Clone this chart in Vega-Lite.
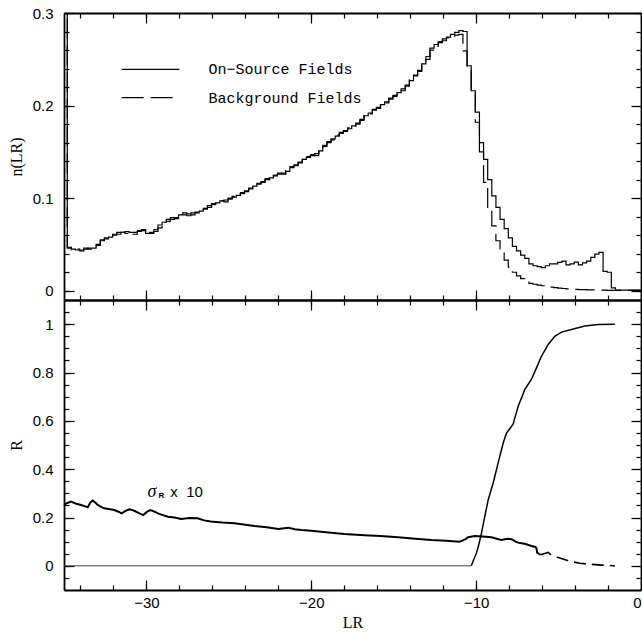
{
 "$schema": "https://vega.github.io/schema/vega-lite/v6.json",
 "padding": {"left": 8, "top": 6, "right": 0, "bottom": 0},
 "background": "white",
 "spacing": 0,
 "bounds": "flush",
 "config": {
  "view": {"stroke": null},
  "axis": {"grid": false, "domainColor": "black", "tickColor": "black", "labelColor": "black", "titleColor": "black", "labelFont": "Liberation Sans", "labelFontSize": 15, "titleFont": "Liberation Serif", "titleFontSize": 16, "titleFontWeight": "normal", "domainWidth": 1.8, "tickWidth": 1.2}
 },
 "datasets": {
  "hist": [
   {"lr": -35, "on": 0.32, "bg": 0.32},
   {"lr": -34.8, "on": 0.046, "bg": 0.047},
   {"lr": -34.55, "on": 0.045, "bg": 0.044},
   {"lr": -34.3, "on": 0.044, "bg": 0.045},
   {"lr": -34.05, "on": 0.044, "bg": 0.043},
   {"lr": -33.8, "on": 0.045, "bg": 0.046},
   {"lr": -33.55, "on": 0.046, "bg": 0.045},
   {"lr": -33.3, "on": 0.046, "bg": 0.048},
   {"lr": -33.05, "on": 0.050, "bg": 0.049},
   {"lr": -32.8, "on": 0.054, "bg": 0.055},
   {"lr": -32.55, "on": 0.056, "bg": 0.057},
   {"lr": -32.3, "on": 0.058, "bg": 0.059},
   {"lr": -32.05, "on": 0.060, "bg": 0.061},
   {"lr": -31.8, "on": 0.061, "bg": 0.063},
   {"lr": -31.55, "on": 0.063, "bg": 0.063},
   {"lr": -31.3, "on": 0.064, "bg": 0.062},
   {"lr": -31.05, "on": 0.063, "bg": 0.060},
   {"lr": -30.8, "on": 0.063, "bg": 0.061},
   {"lr": -30.55, "on": 0.065, "bg": 0.064},
   {"lr": -30.3, "on": 0.065, "bg": 0.066},
   {"lr": -30.05, "on": 0.062, "bg": 0.061},
   {"lr": -29.8, "on": 0.063, "bg": 0.062},
   {"lr": -29.55, "on": 0.066, "bg": 0.064},
   {"lr": -29.3, "on": 0.071, "bg": 0.068},
   {"lr": -29.05, "on": 0.074, "bg": 0.073},
   {"lr": -28.8, "on": 0.075, "bg": 0.077},
   {"lr": -28.55, "on": 0.077, "bg": 0.079},
   {"lr": -28.3, "on": 0.079, "bg": 0.078},
   {"lr": -28.05, "on": 0.082, "bg": 0.080},
   {"lr": -27.8, "on": 0.084, "bg": 0.082},
   {"lr": -27.55, "on": 0.083, "bg": 0.081},
   {"lr": -27.3, "on": 0.084, "bg": 0.082},
   {"lr": -27.05, "on": 0.084, "bg": 0.085},
   {"lr": -26.8, "on": 0.086, "bg": 0.087},
   {"lr": -26.55, "on": 0.089, "bg": 0.088},
   {"lr": -26.3, "on": 0.092, "bg": 0.090},
   {"lr": -26.05, "on": 0.094, "bg": 0.093},
   {"lr": -25.8, "on": 0.095, "bg": 0.096},
   {"lr": -25.55, "on": 0.097, "bg": 0.097},
   {"lr": -25.3, "on": 0.098, "bg": 0.096},
   {"lr": -25.05, "on": 0.100, "bg": 0.099},
   {"lr": -24.8, "on": 0.101, "bg": 0.102},
   {"lr": -24.55, "on": 0.103, "bg": 0.104},
   {"lr": -24.3, "on": 0.105, "bg": 0.106},
   {"lr": -24.05, "on": 0.108, "bg": 0.107},
   {"lr": -23.8, "on": 0.111, "bg": 0.110},
   {"lr": -23.55, "on": 0.113, "bg": 0.114},
   {"lr": -23.3, "on": 0.115, "bg": 0.116},
   {"lr": -23.05, "on": 0.118, "bg": 0.117},
   {"lr": -22.8, "on": 0.120, "bg": 0.121},
   {"lr": -22.55, "on": 0.122, "bg": 0.120},
   {"lr": -22.3, "on": 0.124, "bg": 0.125},
   {"lr": -22.05, "on": 0.126, "bg": 0.127},
   {"lr": -21.8, "on": 0.127, "bg": 0.126},
   {"lr": -21.55, "on": 0.129, "bg": 0.131},
   {"lr": -21.3, "on": 0.133, "bg": 0.134},
   {"lr": -21.05, "on": 0.136, "bg": 0.135},
   {"lr": -20.8, "on": 0.139, "bg": 0.138},
   {"lr": -20.55, "on": 0.142, "bg": 0.141},
   {"lr": -20.3, "on": 0.144, "bg": 0.145},
   {"lr": -20.05, "on": 0.146, "bg": 0.147},
   {"lr": -19.8, "on": 0.148, "bg": 0.146},
   {"lr": -19.55, "on": 0.151, "bg": 0.150},
   {"lr": -19.3, "on": 0.156, "bg": 0.157},
   {"lr": -19.05, "on": 0.161, "bg": 0.160},
   {"lr": -18.8, "on": 0.164, "bg": 0.163},
   {"lr": -18.55, "on": 0.167, "bg": 0.168},
   {"lr": -18.3, "on": 0.170, "bg": 0.171},
   {"lr": -18.05, "on": 0.173, "bg": 0.172},
   {"lr": -17.8, "on": 0.175, "bg": 0.176},
   {"lr": -17.55, "on": 0.178, "bg": 0.177},
   {"lr": -17.3, "on": 0.181, "bg": 0.180},
   {"lr": -17.05, "on": 0.184, "bg": 0.185},
   {"lr": -16.8, "on": 0.189, "bg": 0.190},
   {"lr": -16.55, "on": 0.192, "bg": 0.191},
   {"lr": -16.3, "on": 0.195, "bg": 0.196},
   {"lr": -16.05, "on": 0.198, "bg": 0.197},
   {"lr": -15.8, "on": 0.201, "bg": 0.202},
   {"lr": -15.55, "on": 0.204, "bg": 0.203},
   {"lr": -15.3, "on": 0.207, "bg": 0.208},
   {"lr": -15.05, "on": 0.211, "bg": 0.210},
   {"lr": -14.8, "on": 0.214, "bg": 0.215},
   {"lr": -14.55, "on": 0.218, "bg": 0.216},
   {"lr": -14.3, "on": 0.222, "bg": 0.221},
   {"lr": -14.05, "on": 0.227, "bg": 0.228},
   {"lr": -13.8, "on": 0.233, "bg": 0.232},
   {"lr": -13.55, "on": 0.238, "bg": 0.237},
   {"lr": -13.3, "on": 0.245, "bg": 0.246},
   {"lr": -13.05, "on": 0.253, "bg": 0.250},
   {"lr": -12.8, "on": 0.262, "bg": 0.260},
   {"lr": -12.55, "on": 0.266, "bg": 0.264},
   {"lr": -12.3, "on": 0.269, "bg": 0.268},
   {"lr": -12.05, "on": 0.272, "bg": 0.270},
   {"lr": -11.8, "on": 0.274, "bg": 0.273},
   {"lr": -11.55, "on": 0.277, "bg": 0.275},
   {"lr": -11.3, "on": 0.279, "bg": 0.276},
   {"lr": -11.05, "on": 0.281, "bg": 0.277},
   {"lr": -10.8, "on": 0.280, "bg": 0.259},
   {"lr": -10.55, "on": 0.243, "bg": 0.242},
   {"lr": -10.3, "on": 0.216, "bg": 0.214},
   {"lr": -10.05, "on": 0.193, "bg": 0.182},
   {"lr": -9.8, "on": 0.160, "bg": 0.150},
   {"lr": -9.55, "on": 0.142, "bg": 0.117},
   {"lr": -9.3, "on": 0.120, "bg": 0.089},
   {"lr": -9.05, "on": 0.1025, "bg": 0.070},
   {"lr": -8.8, "on": 0.090, "bg": 0.054},
   {"lr": -8.55, "on": 0.077, "bg": 0.042},
   {"lr": -8.3, "on": 0.067, "bg": 0.033},
   {"lr": -8.05, "on": 0.057, "bg": 0.0255},
   {"lr": -7.8, "on": 0.048, "bg": 0.020},
   {"lr": -7.55, "on": 0.043, "bg": 0.016},
   {"lr": -7.3, "on": 0.0385, "bg": 0.013},
   {"lr": -7.05, "on": 0.035, "bg": 0.0097},
   {"lr": -6.8, "on": 0.029, "bg": 0.008},
   {"lr": -6.55, "on": 0.027, "bg": 0.007},
   {"lr": -6.3, "on": 0.026, "bg": 0.006},
   {"lr": -6.05, "on": 0.025, "bg": 0.0054},
   {"lr": -5.8, "on": 0.027, "bg": 0.0045},
   {"lr": -5.55, "on": 0.029, "bg": 0.004},
   {"lr": -5.3, "on": 0.029, "bg": 0.0033},
   {"lr": -5.05, "on": 0.0306, "bg": 0.0028},
   {"lr": -4.8, "on": 0.032, "bg": 0.0024},
   {"lr": -4.55, "on": 0.028, "bg": 0.002},
   {"lr": -4.3, "on": 0.029, "bg": 0.0018},
   {"lr": -4.05, "on": 0.031, "bg": 0.0015},
   {"lr": -3.8, "on": 0.028, "bg": 0.0013},
   {"lr": -3.55, "on": 0.030, "bg": 0.0011},
   {"lr": -3.3, "on": 0.032, "bg": 0.001},
   {"lr": -3.05, "on": 0.036, "bg": 0.0009},
   {"lr": -2.8, "on": 0.0396, "bg": 0.0008},
   {"lr": -2.55, "on": 0.0414, "bg": 0.0007},
   {"lr": -2.3, "on": 0.021, "bg": 0.0006},
   {"lr": -2.05, "on": 0.020, "bg": 0.0005},
   {"lr": -1.8, "on": 0.003, "bg": 0.0005},
   {"lr": -1.55, "on": 0.0006, "bg": 0.0004},
   {"lr": 0, "on": 0.0004, "bg": 0.0004}
  ],
  "legend": [
   {"x1": -31.5, "x2": -28.0, "tx": -26.24, "y": 0.239, "label": "On−Source Fields", "dash": "solid"},
   {"x1": -31.5, "x2": -28.0, "tx": -26.24, "y": 0.2086, "label": "Background Fields", "dash": "dashed"}
  ],
  "curves": [
   {"lr": -35, "v": 0, "s": "flat"},
   {"lr": -10.29, "v": 0, "s": "flat"},
   {"lr": -10.29, "v": 0, "s": "rise"},
   {"lr": -10.15, "v": 0.025, "s": "rise"},
   {"lr": -9.98, "v": 0.053, "s": "rise"},
   {"lr": -9.83, "v": 0.09, "s": "rise"},
   {"lr": -9.68, "v": 0.134, "s": "rise"},
   {"lr": -9.48, "v": 0.203, "s": "rise"},
   {"lr": -9.27, "v": 0.273, "s": "rise"},
   {"lr": -8.97, "v": 0.342, "s": "rise"},
   {"lr": -8.67, "v": 0.425, "s": "rise"},
   {"lr": -8.36, "v": 0.508, "s": "rise"},
   {"lr": -8.16, "v": 0.549, "s": "rise"},
   {"lr": -7.95, "v": 0.568, "s": "rise"},
   {"lr": -7.76, "v": 0.586, "s": "rise"},
   {"lr": -7.45, "v": 0.66, "s": "rise"},
   {"lr": -7.05, "v": 0.729, "s": "rise"},
   {"lr": -6.65, "v": 0.771, "s": "rise"},
   {"lr": -6.34, "v": 0.819, "s": "rise"},
   {"lr": -6.04, "v": 0.867, "s": "rise"},
   {"lr": -5.63, "v": 0.916, "s": "rise"},
   {"lr": -5.23, "v": 0.95, "s": "rise"},
   {"lr": -4.82, "v": 0.967, "s": "rise"},
   {"lr": -4.22, "v": 0.978, "s": "rise"},
   {"lr": -3.41, "v": 0.992, "s": "rise"},
   {"lr": -2.6, "v": 0.999, "s": "rise"},
   {"lr": -1.59, "v": 1.0, "s": "rise"},
   {"lr": -35.0, "v": 0.252, "s": "sig"},
   {"lr": -34.8, "v": 0.26, "s": "sig"},
   {"lr": -34.57, "v": 0.266, "s": "sig"},
   {"lr": -34.3, "v": 0.258, "s": "sig"},
   {"lr": -33.97, "v": 0.252, "s": "sig"},
   {"lr": -33.75, "v": 0.247, "s": "sig"},
   {"lr": -33.56, "v": 0.242, "s": "sig"},
   {"lr": -33.4, "v": 0.262, "s": "sig"},
   {"lr": -33.26, "v": 0.27, "s": "sig"},
   {"lr": -33.1, "v": 0.262, "s": "sig"},
   {"lr": -32.95, "v": 0.252, "s": "sig"},
   {"lr": -32.75, "v": 0.244, "s": "sig"},
   {"lr": -32.56, "v": 0.238, "s": "sig"},
   {"lr": -32.2, "v": 0.234, "s": "sig"},
   {"lr": -31.96, "v": 0.231, "s": "sig"},
   {"lr": -31.7, "v": 0.224, "s": "sig"},
   {"lr": -31.5, "v": 0.217, "s": "sig"},
   {"lr": -31.25, "v": 0.228, "s": "sig"},
   {"lr": -31.03, "v": 0.234, "s": "sig"},
   {"lr": -30.74, "v": 0.228, "s": "sig"},
   {"lr": -30.45, "v": 0.218, "s": "sig"},
   {"lr": -30.2, "v": 0.21, "s": "sig"},
   {"lr": -29.95, "v": 0.224, "s": "sig"},
   {"lr": -29.76, "v": 0.231, "s": "sig"},
   {"lr": -29.5, "v": 0.224, "s": "sig"},
   {"lr": -29.3, "v": 0.217, "s": "sig"},
   {"lr": -29.0, "v": 0.21, "s": "sig"},
   {"lr": -28.7, "v": 0.203, "s": "sig"},
   {"lr": -28.3, "v": 0.2, "s": "sig"},
   {"lr": -27.9, "v": 0.194, "s": "sig"},
   {"lr": -27.4, "v": 0.198, "s": "sig"},
   {"lr": -26.9, "v": 0.197, "s": "sig"},
   {"lr": -26.5, "v": 0.188, "s": "sig"},
   {"lr": -26.1, "v": 0.183, "s": "sig"},
   {"lr": -25.4, "v": 0.179, "s": "sig"},
   {"lr": -24.66, "v": 0.176, "s": "sig"},
   {"lr": -24.0, "v": 0.17, "s": "sig"},
   {"lr": -23.44, "v": 0.165, "s": "sig"},
   {"lr": -22.7, "v": 0.16, "s": "sig"},
   {"lr": -22.0, "v": 0.152, "s": "sig"},
   {"lr": -21.4, "v": 0.158, "s": "sig"},
   {"lr": -21.0, "v": 0.151, "s": "sig"},
   {"lr": -20.6, "v": 0.148, "s": "sig"},
   {"lr": -20.0, "v": 0.145, "s": "sig"},
   {"lr": -19.4, "v": 0.141, "s": "sig"},
   {"lr": -18.8, "v": 0.137, "s": "sig"},
   {"lr": -18.0, "v": 0.132, "s": "sig"},
   {"lr": -16.77, "v": 0.127, "s": "sig"},
   {"lr": -15.8, "v": 0.123, "s": "sig"},
   {"lr": -14.74, "v": 0.118, "s": "sig"},
   {"lr": -13.7, "v": 0.112, "s": "sig"},
   {"lr": -12.72, "v": 0.107, "s": "sig"},
   {"lr": -11.8, "v": 0.104, "s": "sig"},
   {"lr": -11.0, "v": 0.1, "s": "sig"},
   {"lr": -10.7, "v": 0.108, "s": "sig"},
   {"lr": -10.49, "v": 0.118, "s": "sig"},
   {"lr": -10.08, "v": 0.123, "s": "sig"},
   {"lr": -9.6, "v": 0.121, "s": "sig"},
   {"lr": -9.07, "v": 0.118, "s": "sig"},
   {"lr": -8.75, "v": 0.112, "s": "sig"},
   {"lr": -8.47, "v": 0.107, "s": "sig"},
   {"lr": -8.1, "v": 0.112, "s": "sig"},
   {"lr": -7.86, "v": 0.11, "s": "sig"},
   {"lr": -7.6, "v": 0.1, "s": "sig"},
   {"lr": -7.45, "v": 0.096, "s": "sig"},
   {"lr": -7.0, "v": 0.09, "s": "sig"},
   {"lr": -6.65, "v": 0.082, "s": "sig"},
   {"lr": -6.4, "v": 0.078, "s": "sig"},
   {"lr": -6.34, "v": 0.072, "s": "sig"},
   {"lr": -6.3, "v": 0.055, "s": "sig"},
   {"lr": -6.1, "v": 0.046, "s": "sig"},
   {"lr": -6.1, "v": 0.046, "s": "tail"},
   {"lr": -5.8, "v": 0.052, "s": "tail"},
   {"lr": -5.63, "v": 0.056, "s": "tail"},
   {"lr": -5.5, "v": 0.048, "s": "tail"},
   {"lr": -5.02, "v": 0.034, "s": "tail"},
   {"lr": -4.6, "v": 0.025, "s": "tail"},
   {"lr": -4.22, "v": 0.017, "s": "tail"},
   {"lr": -3.7, "v": 0.011, "s": "tail"},
   {"lr": -3.2, "v": 0.007, "s": "tail"},
   {"lr": -2.4, "v": 0.003, "s": "tail"},
   {"lr": -1.59, "v": 0.0, "s": "tail"}
  ],
  "notes": [
   {"lr": -29.66, "v": 0.306, "t": "σ", "k": "s"},
   {"lr": -29.1, "v": 0.29, "t": "R", "k": "sub"},
   {"lr": -28.55, "v": 0.306, "t": "x\u00a0\u00a010", "k": "x"}
  ]
 },
 "vconcat": [
  {
   "width": 577, "height": 287,
   "resolve": {"scale": {"x": "shared", "y": "shared"}, "axis": {"x": "independent", "y": "independent"}},
   "layer": [
    {"data": {"name": "hist"},
     "mark": {"type": "line", "interpolate": "step-after", "color": "black", "strokeWidth": 1.2, "clip": true},
     "encoding": {
      "x": {"field": "lr", "type": "quantitative", "scale": {"domain": [-35, 0], "nice": false, "zero": false}, "axis": {"orient": "bottom", "values": [-30, -20, -10, 0], "tickSize": -10, "labels": false, "title": null}},
      "y": {"field": "on", "type": "quantitative", "scale": {"domain": [-0.01, 0.3], "nice": false, "zero": false}, "axis": {"orient": "left", "values": [0, 0.1, 0.2, 0.3], "tickSize": -10, "labelPadding": 21, "format": "~g", "title": "n(LR)", "titlePadding": 8}}
     }},
    {"data": {"name": "hist"},
     "mark": {"type": "line", "interpolate": "step-after", "color": "black", "strokeWidth": 1.2, "strokeDash": [20, 7], "clip": true},
     "encoding": {
      "x": {"field": "lr", "type": "quantitative", "scale": {"domain": [-35, 0], "nice": false, "zero": false}, "axis": {"orient": "bottom", "values": [-34, -32, -30, -28, -26, -24, -22, -20, -18, -16, -14, -12, -10, -8, -6, -4, -2], "tickSize": -5, "labels": false, "domain": false, "title": null}},
      "y": {"field": "bg", "type": "quantitative", "scale": {"domain": [-0.01, 0.3], "nice": false, "zero": false}, "axis": {"orient": "left", "values": [0, 0.02, 0.04, 0.06, 0.08, 0.1, 0.12, 0.14, 0.16, 0.18, 0.2, 0.22, 0.24, 0.26, 0.28, 0.3], "tickSize": -5, "labels": false, "domain": false, "title": null}}
     }},
    {"data": {"name": "legend"},
     "mark": {"type": "rule", "color": "black", "strokeWidth": 1.2},
     "encoding": {
      "x": {"field": "x1", "type": "quantitative", "scale": {"domain": [-35, 0], "nice": false, "zero": false}, "axis": {"orient": "top", "values": [-30, -20, -10, 0], "tickSize": -10, "labels": false, "title": null}},
      "x2": {"field": "x2"},
      "y": {"field": "y", "type": "quantitative", "scale": {"domain": [-0.01, 0.3], "nice": false, "zero": false}, "axis": {"orient": "right", "values": [0, 0.1, 0.2, 0.3], "tickSize": -10, "labels": false, "title": null}},
      "strokeDash": {"field": "dash", "type": "nominal", "scale": {"domain": ["solid", "dashed"], "range": [[1, 0], [22, 7]]}, "legend": null}
     }},
    {"data": {"name": "legend"},
     "mark": {"type": "text", "align": "left", "baseline": "middle", "font": "Liberation Mono", "fontSize": 15, "color": "black"},
     "encoding": {
      "x": {"field": "tx", "type": "quantitative", "scale": {"domain": [-35, 0], "nice": false, "zero": false}, "axis": {"orient": "top", "values": [-34, -32, -30, -28, -26, -24, -22, -20, -18, -16, -14, -12, -10, -8, -6, -4, -2], "tickSize": -5, "labels": false, "domain": false, "title": null}},
      "y": {"field": "y", "type": "quantitative", "scale": {"domain": [-0.01, 0.3], "nice": false, "zero": false}, "axis": {"orient": "right", "values": [0, 0.02, 0.04, 0.06, 0.08, 0.1, 0.12, 0.14, 0.16, 0.18, 0.2, 0.22, 0.24, 0.26, 0.28, 0.3], "tickSize": -5, "labels": false, "domain": false, "title": null}},
      "text": {"field": "label"}
     }}
   ]
  },
  {
   "width": 577, "height": 290,
   "resolve": {"scale": {"x": "shared", "y": "shared"}, "axis": {"x": "independent", "y": "independent"}},
   "layer": [
    {"data": {"name": "curves"},
     "transform": [{"filter": "datum.s === 'sig'"}],
     "mark": {"type": "line", "color": "black", "strokeWidth": 2},
     "encoding": {
      "x": {"field": "lr", "type": "quantitative", "scale": {"domain": [-35, 0], "nice": false, "zero": false}, "axis": {"orient": "bottom", "values": [-30, -20, -10, 0], "tickSize": -10, "labelPadding": 15, "format": "d", "title": "LR", "titlePadding": 4}},
      "y": {"field": "v", "type": "quantitative", "scale": {"domain": [-0.1, 1.1], "nice": false, "zero": false}, "axis": {"orient": "left", "values": [0, 0.2, 0.4, 0.6, 0.8, 1], "tickSize": -10, "labelPadding": 21, "format": "~g", "title": "R", "titlePadding": 8}}
     }},
    {"data": {"name": "curves"},
     "transform": [{"filter": "datum.s === 'tail'"}],
     "mark": {"type": "line", "color": "black", "strokeWidth": 1.6, "strokeDash": [12, 6]},
     "encoding": {
      "x": {"field": "lr", "type": "quantitative", "scale": {"domain": [-35, 0], "nice": false, "zero": false}, "axis": {"orient": "bottom", "values": [-34, -32, -30, -28, -26, -24, -22, -20, -18, -16, -14, -12, -10, -8, -6, -4, -2], "tickSize": -5, "labels": false, "domain": false, "title": null}},
      "y": {"field": "v", "type": "quantitative", "scale": {"domain": [-0.1, 1.1], "nice": false, "zero": false}, "axis": {"orient": "left", "values": [-0.05, 0, 0.05, 0.1, 0.15, 0.2, 0.25, 0.3, 0.35, 0.4, 0.45, 0.5, 0.55, 0.6, 0.65, 0.7, 0.75, 0.8, 0.85, 0.9, 0.95, 1, 1.05], "tickSize": -5, "labels": false, "domain": false, "title": null}}
     }},
    {"data": {"name": "curves"},
     "transform": [{"filter": "datum.s === 'flat'"}],
     "mark": {"type": "line", "color": "#444444", "strokeWidth": 1},
     "encoding": {
      "x": {"field": "lr", "type": "quantitative", "scale": {"domain": [-35, 0], "nice": false, "zero": false}, "axis": {"orient": "top", "values": [-30, -20, -10, 0], "tickSize": -10, "labels": false, "title": null}},
      "y": {"field": "v", "type": "quantitative", "scale": {"domain": [-0.1, 1.1], "nice": false, "zero": false}, "axis": {"orient": "right", "values": [0, 0.2, 0.4, 0.6, 0.8, 1], "tickSize": -10, "labels": false, "title": null}}
     }},
    {"data": {"name": "curves"},
     "transform": [{"filter": "datum.s === 'rise'"}],
     "mark": {"type": "line", "color": "black", "strokeWidth": 1.5},
     "encoding": {
      "x": {"field": "lr", "type": "quantitative", "scale": {"domain": [-35, 0], "nice": false, "zero": false}, "axis": {"orient": "top", "values": [-34, -32, -30, -28, -26, -24, -22, -20, -18, -16, -14, -12, -10, -8, -6, -4, -2], "tickSize": -5, "labels": false, "domain": false, "title": null}},
      "y": {"field": "v", "type": "quantitative", "scale": {"domain": [-0.1, 1.1], "nice": false, "zero": false}, "axis": {"orient": "right", "values": [-0.05, 0, 0.05, 0.1, 0.15, 0.2, 0.25, 0.3, 0.35, 0.4, 0.45, 0.5, 0.55, 0.6, 0.65, 0.7, 0.75, 0.8, 0.85, 0.9, 0.95, 1, 1.05], "tickSize": -5, "labels": false, "domain": false, "title": null}}
     }},
    {"data": {"name": "notes"},
     "transform": [{"filter": "datum.k === 's'"}],
     "mark": {"type": "text", "align": "center", "baseline": "middle", "font": "Liberation Serif", "fontStyle": "italic", "fontSize": 18, "color": "black"},
     "encoding": {
      "x": {"field": "lr", "type": "quantitative", "scale": {"domain": [-35, 0], "nice": false, "zero": false}, "axis": null},
      "y": {"field": "v", "type": "quantitative", "scale": {"domain": [-0.1, 1.1], "nice": false, "zero": false}, "axis": null},
      "text": {"field": "t"}
     }},
    {"data": {"name": "notes"},
     "transform": [{"filter": "datum.k === 'sub'"}],
     "mark": {"type": "text", "align": "center", "baseline": "middle", "font": "Liberation Sans", "fontWeight": "bold", "fontSize": 8, "color": "black"},
     "encoding": {
      "x": {"field": "lr", "type": "quantitative", "scale": {"domain": [-35, 0], "nice": false, "zero": false}, "axis": null},
      "y": {"field": "v", "type": "quantitative", "scale": {"domain": [-0.1, 1.1], "nice": false, "zero": false}, "axis": null},
      "text": {"field": "t"}
     }},
    {"data": {"name": "notes"},
     "transform": [{"filter": "datum.k === 'x'"}],
     "mark": {"type": "text", "align": "left", "baseline": "middle", "font": "Liberation Sans", "fontSize": 15, "color": "black"},
     "encoding": {
      "x": {"field": "lr", "type": "quantitative", "scale": {"domain": [-35, 0], "nice": false, "zero": false}, "axis": null},
      "y": {"field": "v", "type": "quantitative", "scale": {"domain": [-0.1, 1.1], "nice": false, "zero": false}, "axis": null},
      "text": {"field": "t"}
     }}
   ]
  }
 ]
}
